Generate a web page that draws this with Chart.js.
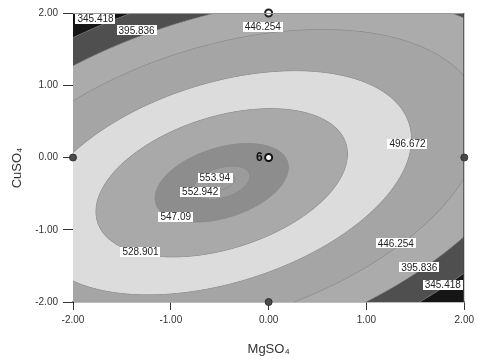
<!DOCTYPE html>
<html>
<head>
<meta charset="utf-8">
<script src="https://cdn.jsdelivr.net/npm/chart.js@4.4.1/dist/chart.umd.min.js"></script>
<style>
    html, body { margin: 0; padding: 0; background: #ffffff; }
    #wrap { width: 478px; height: 361px; }
</style>
</head>
<body>
<div id="wrap"><canvas id="contour-chart" width="478" height="361"></canvas></div>
<script>
// Fitted quadratic model in coded units (A = MgSO4, B = CuSO4)
const modelTerms = ['Intercept', 'A', 'B', 'AB', 'A^2', 'B^2'];
const modelCoefs = [549.54, -11.16, -11.35, 17.48, -18.0, -28.2];

// Contour levels drawn on the plot
const contourLevels = [345.418, 395.836, 446.254, 496.672, 528.901, 547.09, 552.942, 553.94];

// Contour labels and where they sit (coded units)
const labelText = ['345.418', '395.836', '446.254', '496.672', '553.94', '552.942', '547.09', '528.901', '446.254', '395.836', '345.418'];
const labelX = [-1.77, -1.35, -0.06, 1.42, -0.55, -0.70, -0.95, -1.31, 1.30, 1.54, 1.78];
const labelY = [1.92, 1.76, 1.81, 0.19, -0.28, -0.48, -0.82, -1.31, -1.19, -1.52, -1.76];

// Design points and number of runs at each
const designX = [-2, 2, 0, 0, 0];
const designY = [0, 0, -2, 2, 0];
const designRuns = [1, 1, 1, 1, 6];

// Axis ticks
const axisTicks = [-2, -1, 0, 1, 2];

// Band shades, lowest band first
const bandColors = ['#151515', '#4f4f4f', '#ababab', '#a5a5a5', '#dcdcdc', '#a9a9a9', '#8d8d8d', '#9c9c9c', '#9c9c9c'];
const lineColor = '#878787';
const pointFill = ['#4a4a4a', '#4a4a4a', '#4a4a4a', '#ffffff', '#ffffff'];
const FONT = 'Arial, "Liberation Sans", sans-serif';

function evalModel(a, b) {
    const c = modelCoefs;
    return c[0] + c[1] * a + c[2] * b + c[3] * a * b + c[4] * a * a + c[5] * b * b;
}

function bandOf(z) {
    let k = 0;
    while (k < contourLevels.length && z >= contourLevels[k]) k++;
    return k;
}

function toRgb(hex) {
    const n = parseInt(hex.slice(1), 16);
    return [(n >> 16) & 255, (n >> 8) & 255, n & 255];
}

// Paint the filled contour bands + contour lines + labels
const contourPlugin = {
    id: 'contourPlugin',
    beforeDatasetsDraw(chart) {
        const { ctx, chartArea: area, scales } = chart;
        const sx = scales.x, sy = scales.y;
        const left = Math.round(area.left), top = Math.round(area.top);
        const w = Math.round(area.right) - left;
        const h = Math.round(area.bottom) - top;

        const off = document.createElement('canvas');
        off.width = w;
        off.height = h;
        const octx = off.getContext('2d');
        const img = octx.createImageData(w, h);
        const cols = bandColors.map(toRgb);
        const lc = toRgb(lineColor);
        const n = 3;
        const unitX = Math.abs(sx.getValueForPixel(left + 1) - sx.getValueForPixel(left));
        const unitY = Math.abs(sy.getValueForPixel(top + 1) - sy.getValueForPixel(top));
        const c = modelCoefs;

        for (let j = 0; j < h; j++) {
            for (let i = 0; i < w; i++) {
                let r = 0, g = 0, b = 0;
                for (let sj = 0; sj < n; sj++) {
                    const yv = sy.getValueForPixel(top + j + (sj + 0.5) / n);
                    for (let si = 0; si < n; si++) {
                        const xv = sx.getValueForPixel(left + i + (si + 0.5) / n);
                        const col = cols[bandOf(evalModel(xv, yv))];
                        r += col[0]; g += col[1]; b += col[2];
                    }
                }
                r /= n * n; g /= n * n; b /= n * n;

                // contour line strength from distance to nearest level
                const xv = sx.getValueForPixel(left + i + 0.5);
                const yv = sy.getValueForPixel(top + j + 0.5);
                const z = evalModel(xv, yv);
                const gx = (c[1] + c[3] * yv + 2 * c[4] * xv) * unitX;
                const gy = (c[2] + c[3] * xv + 2 * c[5] * yv) * unitY;
                const gp = Math.sqrt(gx * gx + gy * gy) || 1e-6;
                let d = Infinity;
                contourLevels.forEach(L => { d = Math.min(d, Math.abs(z - L) / gp); });
                const a = Math.max(0, 1 - d / 0.8) * 0.75;
                r = r * (1 - a) + lc[0] * a;
                g = g * (1 - a) + lc[1] * a;
                b = b * (1 - a) + lc[2] * a;

                const p = (j * w + i) * 4;
                img.data[p] = r;
                img.data[p + 1] = g;
                img.data[p + 2] = b;
                img.data[p + 3] = 255;
            }
        }
        octx.putImageData(img, 0, 0);
        ctx.drawImage(off, left, top);

        // contour labels
        ctx.save();
        ctx.font = '10px ' + FONT;
        ctx.textAlign = 'center';
        ctx.textBaseline = 'middle';
        labelText.forEach((t, k) => {
            const px = sx.getPixelForValue(labelX[k]);
            const py = sy.getPixelForValue(labelY[k]);
            const tw = ctx.measureText(t).width;
            ctx.fillStyle = '#ffffff';
            ctx.fillRect(Math.round(px - tw / 2 - 2), Math.round(py - 5), Math.round(tw + 4), 10);
            ctx.fillStyle = '#222222';
            ctx.fillText(t, px, py + 0.5);
        });
        ctx.restore();
    },
    afterDatasetsDraw(chart) {
        const { ctx, scales } = chart;
        // replicate count next to the centre point
        ctx.save();
        ctx.font = 'bold 12px ' + FONT;
        ctx.fillStyle = '#111111';
        ctx.textAlign = 'right';
        ctx.textBaseline = 'middle';
        designRuns.forEach((runs, k) => {
            if (runs > 1) {
                const px = scales.x.getPixelForValue(designX[k]);
                const py = scales.y.getPixelForValue(designY[k]);
                ctx.fillText(String(runs), px - 6, py);
            }
        });
        ctx.restore();
    },
    afterDraw(chart) {
        const { ctx, chartArea: area } = chart;
        ctx.save();
        // top and right frame
        ctx.lineWidth = 1;
        ctx.strokeStyle = '#9a9a9a';
        ctx.beginPath();
        ctx.moveTo(area.left, area.top + 0.5);
        ctx.lineTo(area.right, area.top + 0.5);
        ctx.stroke();
        ctx.strokeStyle = '#444444';
        ctx.beginPath();
        ctx.moveTo(area.right - 0.5, area.top);
        ctx.lineTo(area.right - 0.5, area.bottom);
        ctx.stroke();

        // axis titles
        ctx.fillStyle = '#333333';
        ctx.font = '13px ' + FONT;
        ctx.textAlign = 'center';
        ctx.textBaseline = 'middle';
        ctx.fillText('MgSO\u2084', (area.left + area.right) / 2, 349);
        ctx.translate(17, 168);
        ctx.rotate(-Math.PI / 2);
        ctx.fillText('CuSO\u2084', 0, 0);
        ctx.restore();
    }
};

const chartCanvas = document.getElementById('contour-chart');

const config = {
    type: 'scatter',
    data: {
        datasets: [{
            label: 'Design points',
            data: designX.map((v, k) => ({ x: v, y: designY[k] })),
            pointRadius: 3.5,
            pointBackgroundColor: pointFill,
            pointBorderColor: ['#333333', '#333333', '#333333', '#222222', '#111111'],
            pointBorderWidth: [1, 1, 1, 2, 2],
            clip: false
        }]
    },
    options: {
        responsive: false,
        animation: false,
        events: [],
        layout: { padding: { top: 13, right: 11, left: 0, bottom: 0 } },
        plugins: {
            legend: { display: false },
            tooltip: { enabled: false }
        },
        scales: {
            x: {
                type: 'linear',
                min: -2,
                max: 2,
                afterBuildTicks: s => { s.ticks = axisTicks.map(v => ({ value: v })); },
                afterFit: s => { s.height = 59; },
                grid: { drawOnChartArea: false, tickLength: 8, color: '#333333' },
                border: { color: '#7a7a7a', width: 1.5 },
                ticks: {
                    padding: 4,
                    color: '#333333',
                    font: { size: 10, family: FONT },
                    maxRotation: 0,
                    callback: v => Number(v).toFixed(2)
                }
            },
            y: {
                type: 'linear',
                min: -2,
                max: 2,
                afterBuildTicks: s => { s.ticks = axisTicks.map(v => ({ value: v })); },
                afterFit: s => { s.width = 73; },
                grid: { drawOnChartArea: false, tickLength: 10, color: '#333333' },
                border: { color: '#111111', width: 1 },
                ticks: {
                    padding: 5,
                    color: '#333333',
                    font: { size: 10, family: FONT },
                    callback: v => Number(v).toFixed(2)
                }
            }
        }
    },
    plugins: [contourPlugin]
};

new Chart(chartCanvas, config);
</script>
</body>
</html>
